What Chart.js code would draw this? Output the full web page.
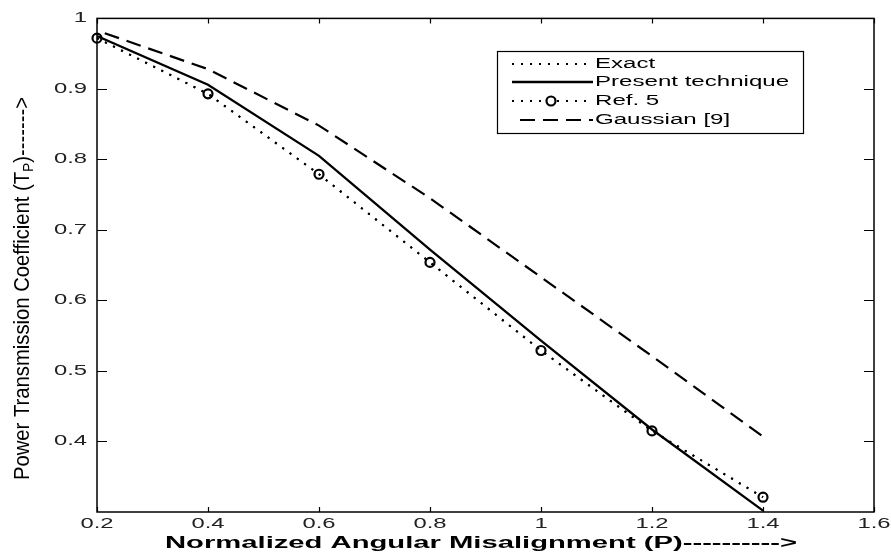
<!DOCTYPE html>
<html>
<head>
<meta charset="utf-8">
<script src="https://cdn.jsdelivr.net/npm/chart.js@4.4.1/dist/chart.umd.min.js"></script>
<style>
html,body{margin:0;padding:0;background:#fff;}
#wrap{width:891px;height:554px;position:relative;}
</style>
</head>
<body>
<div id="wrap"><canvas id="c"></canvas></div>
<script>
// ---- data ----
const xValues        = [0.2, 0.4, 0.6, 0.8, 1.0, 1.2, 1.4];
const exactValues    = [0.972, 0.893, 0.779, 0.654, 0.529, 0.415, 0.321];
const presentValues  = [0.975, 0.906, 0.805, 0.672, 0.543, 0.417, 0.302];
const ref5Values     = [0.972, 0.893, 0.779, 0.654, 0.529, 0.415, 0.321];
const gaussianX      = [0.214, 0.4, 0.6, 0.8, 1.0, 1.2, 1.4];
const gaussianValues = [0.979, 0.928, 0.848, 0.745, 0.633, 0.521, 0.407];
const seriesNames    = ['Exact', 'Present technique', 'Ref. 5', 'Gaussian [9]'];
const xTicks = [0.2, 0.4, 0.6, 0.8, 1.0, 1.2, 1.4, 1.6];
const yTicks = [0.4, 0.5, 0.6, 0.7, 0.8, 0.9, 1.0];
const xTitle = 'Normalized Angular Misalignment (P)---------->';
const yTitleMain = 'Power Transmission Coefficient';
const yTitleSub = 'P';
const yTitleArrow = '------->';

const FONT = '"Liberation Sans", Arial, Helvetica, sans-serif';
const TEXT_SX = 1.7;

const toPts = (xs, ys) => xs.map((x, i) => ({x: x, y: ys[i]}));
const fmt = v => String(Number(v.toFixed(1)));

function stretchText(ctx, text, x, y, font, sx, align, baseline, color) {
  ctx.save();
  ctx.font = font;
  ctx.textAlign = align || 'left';
  ctx.textBaseline = baseline || 'alphabetic';
  ctx.fillStyle = color || '#000';
  ctx.translate(x, y);
  ctx.scale(sx, 1);
  ctx._origFill(text, 0, 0);
  ctx.restore();
}

const deco = {
  id: 'deco',
  beforeDraw(chart) {
    const ctx = chart.ctx;
    if (!ctx._origFill) {
      const orig = ctx.fillText.bind(ctx);
      ctx._origFill = orig;
      ctx.fillText = function (t, x, y, mw) {
        if (ctx._stretch) {
          ctx.save();
          ctx.translate(x, y);
          ctx.scale(ctx._stretch, 1);
          orig(t, 0, 0);
          ctx.restore();
        } else if (mw === undefined) {
          orig(t, x, y);
        } else {
          orig(t, x, y, mw);
        }
      };
    }
    ctx.save();
    ctx.fillStyle = '#fff';
    ctx.fillRect(0, 0, chart.width, chart.height);
    ctx.restore();
    ctx._stretch = TEXT_SX;
  },
  afterDraw(chart) {
    const ctx = chart.ctx;
    ctx._stretch = 0;
    const a = chart.chartArea;
    const xs = chart.scales.x, ys = chart.scales.y;
    // frame
    ctx.save();
    ctx.strokeStyle = '#000';
    ctx.lineWidth = 1.5;
    ctx.setLineDash([]);
    ctx.strokeRect(a.left, a.top, a.right - a.left, a.bottom - a.top);
    // inward ticks
    ctx.lineWidth = 1.2;
    ctx.beginPath();
    xs.ticks.forEach(t => {
      const px = Math.round(xs.getPixelForValue(t.value)) + 0.5;
      ctx.moveTo(px, a.bottom); ctx.lineTo(px, a.bottom - 5);
      ctx.moveTo(px, a.top); ctx.lineTo(px, a.top + 5);
    });
    ys.ticks.forEach(t => {
      const py = Math.round(ys.getPixelForValue(t.value)) + 0.5;
      ctx.moveTo(a.left, py); ctx.lineTo(a.left + 10, py);
      ctx.moveTo(a.right, py); ctx.lineTo(a.right - 10, py);
    });
    ctx.stroke();
    ctx.restore();

    // x title
    const xf = 'bold 16px ' + FONT;
    ctx.save(); ctx.font = xf;
    const xw = ctx.measureText(xTitle).width;
    ctx.restore();
    stretchText(ctx, xTitle, 165, 548, xf, 632 / xw, 'left', 'alphabetic', '#000');

    // y title (rotated)
    const yf = '22px ' + FONT, yfs = '15px ' + FONT;
    ctx.save();
    ctx.font = yf;
    const s1 = yTitleMain + ' (T';
    const w1 = ctx.measureText(s1).width;
    const s3 = ')' + yTitleArrow;
    const w3 = ctx.measureText(s3).width;
    ctx.font = yfs;
    const w2 = ctx.measureText(yTitleSub).width;
    const k = 383 / (w1 + w2 + w3);
    ctx.translate(21, 480);
    ctx.rotate(-Math.PI / 2);
    ctx.scale(k, 1);
    ctx.fillStyle = '#000';
    ctx.textAlign = 'left';
    ctx.textBaseline = 'alphabetic';
    ctx.font = yf;
    ctx._origFill(s1, 0, 8);
    ctx.font = yfs;
    ctx._origFill(yTitleSub, w1, 12);
    ctx.font = yf;
    ctx._origFill(s3, w1 + w2, 8);
    ctx.restore();

    // legend
    ctx.save();
    ctx.strokeStyle = '#000';
    ctx.lineWidth = 1.2;
    ctx.setLineDash([]);
    ctx.strokeRect(497.5, 51.5, 306, 82);
    ctx.restore();
    const rows = [64, 82, 101, 120];
    chart.data.datasets.forEach((ds, i) => {
      const y = rows[i];
      const x0 = i === 3 ? 520 : 512, x1 = 593;
      ctx.save();
      ctx.strokeStyle = ds.borderColor;
      ctx.lineWidth = ds.borderWidth;
      ctx.setLineDash(ds.borderDash || []);
      ctx.beginPath();
      ctx.moveTo(x0, y); ctx.lineTo(x1, y);
      ctx.stroke();
      if (ds.pointRadius > 0) {
        ctx.setLineDash([]);
        ctx.lineWidth = ds.pointBorderWidth;
        ctx.fillStyle = '#fff';
        ctx.beginPath();
        ctx.arc(551, y, ds.pointRadius, 0, Math.PI * 2);
        ctx.fill();
        ctx.stroke();
      }
      ctx.restore();
      stretchText(ctx, ds.label, 595, y, '14px ' + FONT, 1.72, 'left', 'middle', '#000');
    });
  }
};

new Chart(document.getElementById('c'), {
  type: 'line',
  data: {
    datasets: [
      {label: seriesNames[0], data: toPts(xValues, exactValues), borderColor: '#000', borderWidth: 2,
       borderDash: [2, 7], pointRadius: 0, fill: false, tension: 0},
      {label: seriesNames[1], data: toPts(xValues, presentValues), borderColor: '#000', borderWidth: 2.3,
       pointRadius: 0, fill: false, tension: 0},
      {label: seriesNames[2], data: toPts(xValues, ref5Values), borderColor: '#000', borderWidth: 2,
       borderDash: [2, 7], pointRadius: 4.5, pointBorderWidth: 2.2, pointBorderColor: '#000',
       pointBackgroundColor: 'rgba(0,0,0,0)', fill: false, tension: 0, clip: false},
      {label: seriesNames[3], data: toPts(gaussianX, gaussianValues), borderColor: '#000', borderWidth: 2.2,
       borderDash: [15, 8], pointRadius: 0, fill: false, tension: 0}
    ]
  },
  options: {
    responsive: true,
    maintainAspectRatio: false,
    animation: false,
    events: [],
    layout: {padding: {top: 11, right: 17, left: 0, bottom: 0}},
    plugins: {legend: {display: false}, tooltip: {enabled: false}, title: {display: false}},
    scales: {
      x: {
        type: 'linear', min: 0.2, max: 1.6,
        afterBuildTicks: s => { s.ticks = xTicks.map(v => ({value: v})); },
        afterFit: s => { s.height = 42; },
        grid: {display: false, drawTicks: false},
        border: {display: false},
        ticks: {callback: v => fmt(v), autoSkip: false, maxRotation: 0, padding: 4,
                color: '#222', font: {family: FONT, size: 14}}
      },
      y: {
        type: 'linear', min: 0.3, max: 1.0,
        afterBuildTicks: s => { s.ticks = yTicks.map(v => ({value: v})); },
        afterFit: s => { s.width = 97; },
        grid: {display: false, drawTicks: false},
        border: {display: false},
        ticks: {callback: v => fmt(v), padding: 10, color: '#222', font: {family: FONT, size: 14}}
      }
    }
  },
  plugins: [deco]
});
</script>
</body>
</html>
